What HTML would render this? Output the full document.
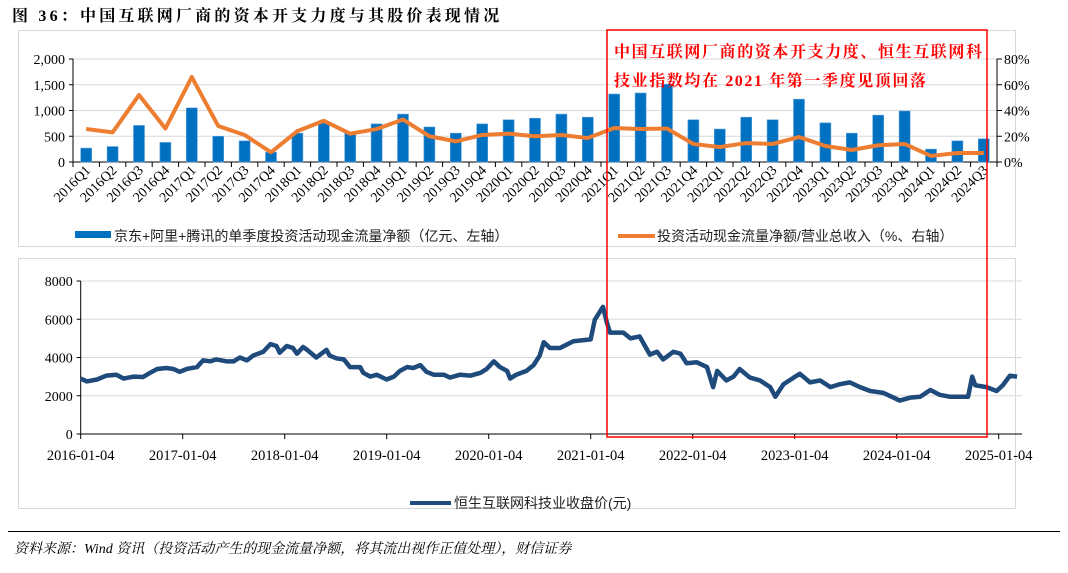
<!DOCTYPE html>
<html><head><meta charset="utf-8"><style>
body{margin:0;background:#fff;width:1068px;height:573px;overflow:hidden;font-family:"Liberation Serif","Noto Serif CJK SC",serif}
svg{position:absolute;left:0;top:0}
</style></head><body>
<svg id="s" width="1068" height="573" xmlns="http://www.w3.org/2000/svg"></svg>
<script>
const quarters=[];for(let y=2016;y<=2024;y++)for(let q=1;q<=4;q++){if(y===2024&&q===4)break;quarters.push(y+'Q'+q);}
const capex=[270,300,710,380,1050,500,410,190,560,760,560,740,930,680,560,740,820,850,930,870,1320,1340,1510,820,640,870,820,1220,760,560,910,990,250,410,450];
const ratio=[25.6,23,52,26,66,28,21,7.5,24,32,22,25.6,33,20,16,21,22,20,21,18.6,26.4,25.6,26,14,11.6,14.7,14,19.4,12.4,9.3,13,14,4.7,7,7];
const leftTicks=[0,500,1000,1500,2000];
const leftTickLabels=['0','500','1,000','1,500','2,000'];
const rightTicks=[0,20,40,60,80];
const priceT=[0,.06,.16,.25,.35,.42,.52,.61,.68,.75,.84,.91,.97,1.04,1.14,1.2,1.27,1.33,1.43,1.5,1.56,1.63,1.69,1.79,1.86,1.92,1.95,2.02,2.08,2.12,2.18,2.22,2.31,2.41,2.44,2.51,2.58,2.64,2.74,2.77,2.84,2.9,3,3.07,3.13,3.2,3.26,3.33,3.39,3.46,3.56,3.62,3.72,3.82,3.92,3.98,4.05,4.11,4.18,4.21,4.27,4.37,4.44,4.5,4.54,4.6,4.7,4.83,5,5.04,5.12,5.16,5.19,5.32,5.39,5.48,5.58,5.65,5.71,5.81,5.88,5.94,6.04,6.14,6.2,6.24,6.33,6.4,6.46,6.56,6.66,6.76,6.81,6.89,6.99,7.05,7.15,7.25,7.35,7.44,7.54,7.64,7.74,7.87,7.97,8.03,8.13,8.23,8.33,8.42,8.52,8.7,8.74,8.77,8.88,8.98,9.04,9.11,9.18];
const price=[2900,2750,2850,3050,3100,2900,3000,2980,3200,3400,3450,3400,3250,3400,3500,3850,3800,3900,3800,3800,4000,3850,4100,4300,4700,4600,4250,4600,4500,4200,4550,4400,4000,4400,4100,3950,3900,3500,3500,3200,3000,3100,2850,3000,3300,3500,3450,3600,3250,3100,3100,2950,3100,3050,3200,3400,3800,3500,3300,2900,3100,3300,3600,4100,4800,4500,4500,4850,4950,5970,6650,5800,5300,5300,5000,5100,4150,4300,3900,4300,4200,3700,3750,3500,2450,3300,2800,3000,3400,2950,2800,2450,1950,2600,2950,3150,2700,2800,2450,2600,2700,2450,2250,2150,1900,1750,1900,1950,2300,2050,1950,1950,3000,2550,2450,2250,2550,3050,3000];
const priceTicks=[0,2000,4000,6000,8000];
const dateLabels=['2016-01-04','2017-01-04','2018-01-04','2019-01-04','2020-01-04','2021-01-04','2022-01-04','2023-01-04','2024-01-04','2025-01-04'];

const S=document.getElementById('s');const NS='http://www.w3.org/2000/svg';
function mk(t,a,p){const e=document.createElementNS(NS,t);for(const k in a)e.setAttribute(k,a[k]);(p||S).appendChild(e);return e;}
function tx(x,y,s,a,p){const e=mk('text',Object.assign({x:x,y:y},a),p);e.textContent=s;return e;}

let e=tx(12,21,'图 36：中国互联网厂商的资本开支力度与其股价表现情况',{'font-size':'16','font-weight':'bold',fill:'#000','letter-spacing':'3.2'});

e=mk('rect',{x:18.5,y:30.5,width:997,height:216,fill:'none',stroke:'#d9d9d9'});

e=mk('rect',{x:18.5,y:258.5,width:997,height:250,fill:'none',stroke:'#d9d9d9'});

e=mk('line',{x1:8,x2:1060,y1:531.5,y2:531.5,stroke:'#000','stroke-width':1});

e=tx(14,553,'资料来源：Wind 资讯（投资活动产生的现金流量净额，将其流出视作正值处理），财信证券',{'font-size':'14','font-style':'italic',fill:'#000'});


const X0=73,X1=997,Y0=162,Y1=59;const cw=(X1-X0)/quarters.length;
const xq=i=>X0+cw*(i+0.5);const yl=v=>Y0-(v/2000)*(Y0-Y1);const yr=v=>Y0-(v/80)*(Y0-Y1);
const gTop=mk('g',{});
leftTicks.forEach((v,i)=>{
 if(v>0){e=mk('line',{x1:X0,x2:X1,y1:yl(v),y2:yl(v),stroke:'#d9d9d9'},gTop);}
 e=tx(X0-8,yl(v)+5,leftTickLabels[i],{'font-size':'14','text-anchor':'end'},gTop);
 mk('line',{x1:X0-4,x2:X0,y1:yl(v),y2:yl(v),stroke:'#000'},gTop);
});
rightTicks.forEach(v=>{
 mk('line',{x1:X1,x2:X1+5,y1:yr(v),y2:yr(v),stroke:'#000'},gTop);
 e=tx(X1+7,yr(v)+5,v+'%',{'font-size':'14'},gTop);
});
mk('line',{x1:X0,x2:X0,y1:Y1,y2:Y0,stroke:'#000'},gTop);
mk('line',{x1:X1,x2:X1,y1:Y1,y2:Y0,stroke:'#000'},gTop);
mk('line',{x1:X0,x2:X1,y1:Y0,y2:Y0,stroke:'#000'},gTop);
quarters.forEach((q,i)=>{
 mk('line',{x1:X0+cw*i,x2:X0+cw*i,y1:Y0,y2:Y0+5,stroke:'#000'},gTop);
 e=mk('rect',{x:xq(i)-5.5,y:yl(capex[i]),width:11,height:Y0-yl(capex[i]),fill:'#0070c0',stroke:'#5aa0e0','stroke-width':0.6},gTop);
 
 const lx=xq(i)+5,ly=Y0+9;
 e=tx(lx,ly,q,{'font-size':'14','text-anchor':'end','transform':`rotate(-45 ${lx} ${ly})`},gTop);
 
});
mk('line',{x1:X1,x2:X1,y1:Y0,y2:Y0+5,stroke:'#000'},gTop);
e=mk('polyline',{points:ratio.map((v,i)=>xq(i)+','+yr(v)).join(' '),fill:'none',stroke:'#ed7d31','stroke-width':4,'stroke-linejoin':'round'},gTop);

e=mk('rect',{x:75,y:231,width:36,height:7,fill:'#0070c0'},gTop);
e=tx(114,241,'京东+阿里+腾讯的单季度投资活动现金流量净额（亿元、左轴）',{'font-size':'14',style:'font-family:"Liberation Sans","Noto Sans CJK SC",sans-serif',fill:'#222'},gTop);
e=mk('line',{x1:618,x2:655,y1:236,y2:236,stroke:'#ed7d31','stroke-width':4},gTop);
e=tx(657,241,'投资活动现金流量净额/营业总收入（%、右轴）',{'font-size':'14',style:'font-family:"Liberation Sans","Noto Sans CJK SC",sans-serif',fill:'#222'},gTop);

const BX0=80.7,BX1=1018,BY0=434,BY1=281;const pxYear=102;
const xt=t=>BX0+t*pxYear;const yp=v=>BY0-(v/8000)*(BY0-BY1);
const gB=mk('g',{});
priceTicks.forEach(v=>{
 if(v>0){e=mk('line',{x1:BX0,x2:BX1+4,y1:yp(v),y2:yp(v),stroke:'#d9d9d9'},gB);}
 mk('line',{x1:BX0-4,x2:BX0,y1:yp(v),y2:yp(v),stroke:'#000'},gB);
 e=tx(BX0-8,yp(v)+5,String(v),{'font-size':'14','text-anchor':'end'},gB);
});
mk('line',{x1:BX0,x2:BX0,y1:BY1,y2:BY0,stroke:'#000'},gB);
mk('line',{x1:BX0,x2:BX1+4,y1:BY0,y2:BY0,stroke:'#000'},gB);
dateLabels.forEach((d,i)=>{
 mk('line',{x1:xt(i),x2:xt(i),y1:BY0,y2:BY0+5,stroke:'#000'},gB);
 e=tx(xt(i),BY0+26,d,{'font-size':'14.5','text-anchor':'middle'},gB);
});
e=mk('polyline',{points:priceT.map((t,i)=>xt(t)+','+yp(price[i])).join(' '),fill:'none',stroke:'#1f4a7c','stroke-width':4.5,'stroke-linejoin':'round'},gB);

e=mk('line',{x1:410,x2:451,y1:503,y2:503,stroke:'#1f4a7c','stroke-width':4},gB);
e=tx(454,508,'恒生互联网科技业收盘价(元)',{'font-size':'14',style:'font-family:"Liberation Sans","Noto Sans CJK SC",sans-serif',fill:'#222'},gB);

e=mk('rect',{x:607,y:30,width:380,height:407,fill:'none',stroke:'#ff0000','stroke-width':1.5});

e=tx(614,57,'中国互联网厂商的资本开支力度、恒生互联网科',{'font-size':'16','font-weight':'bold',fill:'#ff0000','letter-spacing':'1.6'});

e=tx(614,86,'技业指数均在 2021 年第一季度见顶回落',{'font-size':'16','font-weight':'bold',fill:'#ff0000','letter-spacing':'1.6'});

</script>
</body></html>
